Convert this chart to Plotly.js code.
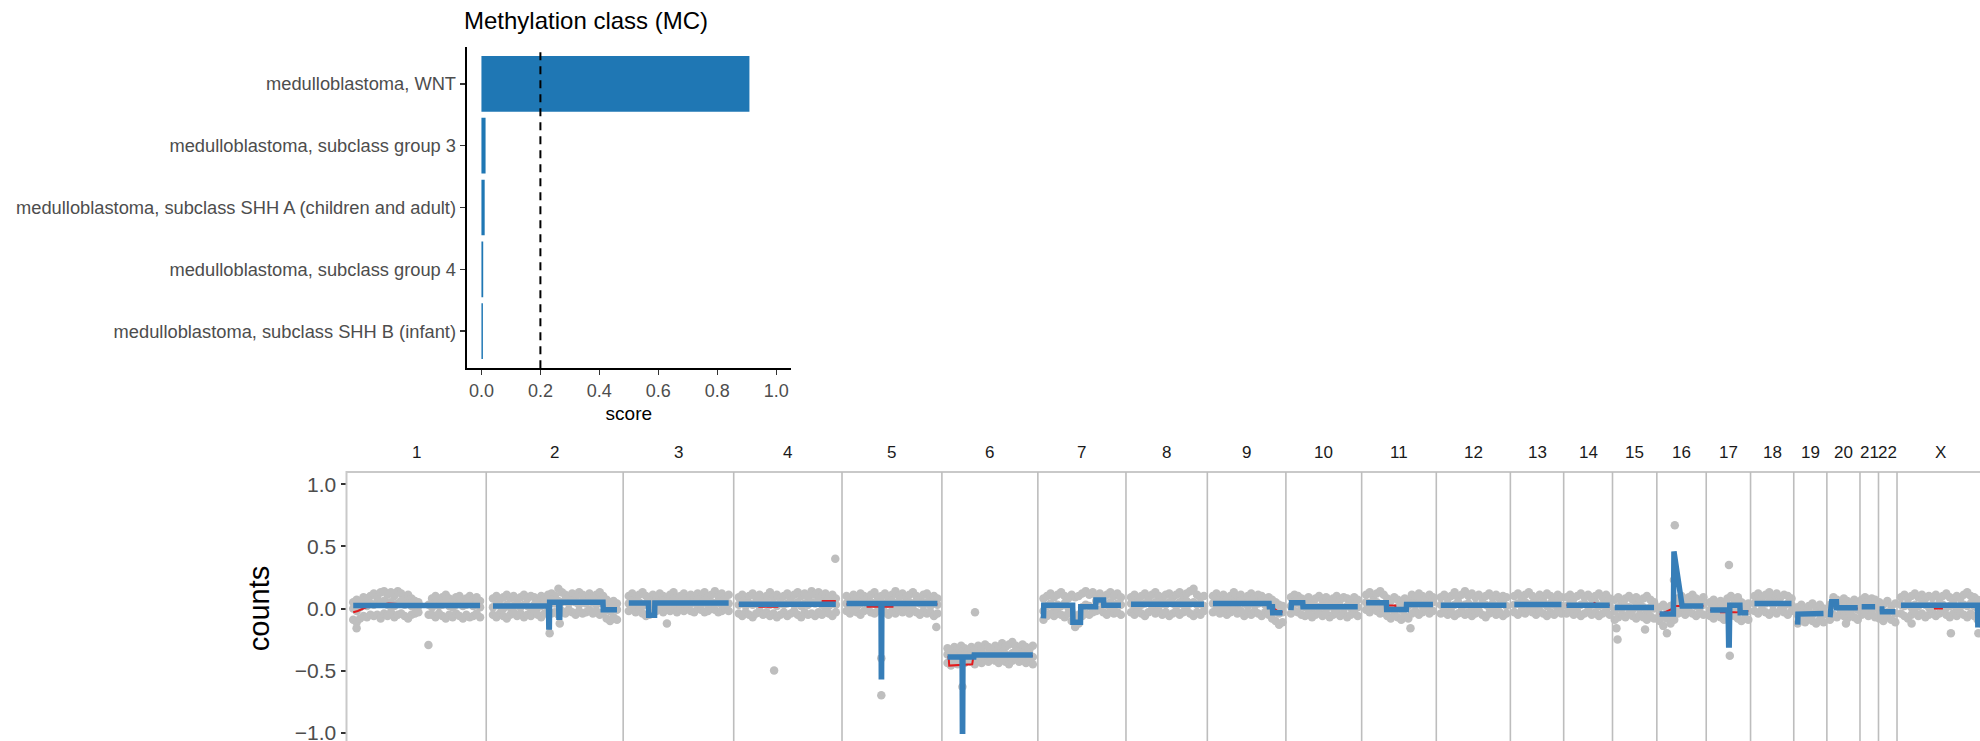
<!DOCTYPE html>
<html><head><meta charset="utf-8">
<script src="https://cdn.plot.ly/plotly-3.0.1.min.js"></script>
<style>html,body{margin:0;padding:0;overflow:hidden;background:#fff}#chart{width:1984px;height:750px}</style>
</head><body><div id="chart"></div><script>
// ---------- data: methylation class scores ----------
const classNames = ["medulloblastoma, WNT","medulloblastoma, subclass group 3","medulloblastoma, subclass SHH A (children and adult)","medulloblastoma, subclass group 4","medulloblastoma, subclass SHH B (infant)"];
const classScores = [0.909, 0.014, 0.011, 0.006, 0.005];
const scoreThreshold = 0.2;
const scoreTicks = [0, 0.2, 0.4, 0.6, 0.8, 1.0];

// ---------- data: copy number profile ----------
const chromNames = ["1","2","3","4","5","6","7","8","9","10","11","12","13","14","15","16","17","18","19","20","21","22","X"];
const chromLen = [249,244,197,193,178,171,157,145,140,135,133,132,95,87,79,88,79,77,59,59,33,33,155];
const countTicks = [-1, -0.5, 0, 0.5, 1];

// segmented profile (blue), positions in Mb within chromosome
const bluePos = [
 [12,238],
 [12,111,111.5,112.5,113,129,129.5,131,131.5,208,208.5,233],
 [10,45,45.5,56,56.5,188],
 [9,182],
 [8,69.5,70,70.5,71,170],
 [10,36,36.5,37,37.5,57,57.5,162],
 [10,10.5,62,62.5,76,76.5,103,103.5,117,117.5,148],
 [9,139],
 [10,110,110.5,116,116.5,134],
 [9,10,30,30.5,128],
 [8,44,44.5,79.5,80,127],
 [8,125],
 [7,91],
 [5,82],
 [4,74],
 [5,29.5,30.5,45,83],
 [7,39,40,41,42,60,60.5,75],
 [7,73],
 [7,7.5,53],
 [5.5,8.5,17,17.5,55],
 [3,27],
 [1.5,6,6.5,30],
 [7,143.5,144,150]
];
const blueVal = [
 [0.025,0.025],
 [0.02,0.02,-0.15,-0.15,0.05,0.05,-0.07,-0.07,0.05,0.05,-0.01,-0.01],
 [0.045,0.045,-0.055,-0.055,0.045,0.045],
 [0.035,0.035],
 [0.04,0.04,-0.55,-0.55,0.04,0.04],
 [-0.39,-0.39,-0.99,-0.99,-0.39,-0.39,-0.375,-0.375],
 [-0.08,0.027,0.027,-0.11,-0.11,0.014,0.014,0.068,0.068,0.027,0.027],
 [0.035,0.035],
 [0.04,0.04,0.015,0.015,-0.035,-0.035],
 [-0.013,0.046,0.046,0.014,0.014],
 [0.046,0.046,-0.008,-0.008,0.033,0.033],
 [0.027,0.027],
 [0.033,0.033],
 [0.027,0.027],
 [0.009,0.009],
 [-0.045,-0.045,0.46,0.02,0.02],
 [-0.013,-0.013,-0.295,-0.295,0.027,0.027,-0.035,-0.035],
 [0.04,0.04],
 [-0.13,-0.045,-0.04],
 [-0.07,0.054,0.054,0.006,0.006],
 [0.014,0.014],
 [-0.005,-0.005,-0.027,-0.027],
 [0.027,0.027,-0.13,-0.13]
];

// second segmentation (red), drawn under the blue one
const redPos = [
 [12,20,35,60,75,100,115,238],
 [], [],
 [9,45,45.5,78,78.5,158,158.5,182],
 [8,45,45.5,90,90.5,170],
 [10,12,13,54,55,56,162],
 [],[],
 [10,100,112,125,134],
 [],
 [8,44,44.5,60,60.5,79.5,80,127],
 [],[],
 [5,50,55,60,82],
 [],
 [5,29,30.5,45,83],
 [7,25,26,60,60.5,75],
 [],[],
 [5.5,8,10,17,17.5,35,55],
 [],[],
 [7,67,67.5,80,80.5,143.5]
];
const redVal = [
 [-0.03,-0.02,0.01,0.03,0.04,0.035,0.02,0.02],
 [], [],
 [0.035,0.035,0.015,0.015,0.035,0.035,0.06,0.06],
 [0.035,0.035,0.015,0.015,0.035,0.035],
 [-0.39,-0.39,-0.46,-0.45,-0.42,-0.38,-0.38],
 [],[],
 [0.04,0.04,0.02,-0.02,-0.03],
 [],
 [0.046,0.046,0.025,0.025,-0.008,-0.008,0.033,0.033],
 [],[],
 [0.027,0.027,0.045,0.027,0.027],
 [],
 [-0.05,0.0,0.02,0.02,0.02],
 [-0.013,-0.013,-0.03,-0.03,-0.02,-0.02],
 [],[],
 [-0.06,0.02,0.03,0.02,0.01,0.0,0.0],
 [],[],
 [0.027,0.027,0.0,0.0,0.027,0.027]
];

// binned counts (grey points): upper, middle and lower rows of each chromosome's band
const bandUpper = [
 [0.05,0.07,0.06,0.09,0.08,0.10,0.12,0.09,0.13,0.14,0.11,0.13,0.10,0.14,0.12,0.09,0.11,0.08,0.06,0.05,null,null,null,0.08,0.10,0.07,0.09,0.11,0.08,0.06,0.09,0.10,0.07,0.08,0.10,0.07,0.09,0.06],
 [0.08,0.10,0.07,0.09,0.11,0.08,0.10,0.07,0.09,0.11,0.08,0.10,0.09,0.07,0.10,0.08,0.11,0.12,0.10,0.16,0.13,0.11,0.10,0.12,0.09,0.13,0.11,0.10,0.12,0.09,0.11,0.13,0.10,0.07,0.05,0.06,0.04],
 [0.10,0.12,0.09,0.11,0.13,0.10,0.08,0.11,0.09,0.12,0.10,0.08,0.11,0.13,0.09,0.10,0.12,0.08,0.11,0.09,0.12,0.10,0.13,0.09,0.11,0.14,0.10,0.12,0.09,0.11],
 [0.09,0.11,0.08,0.10,0.12,0.09,0.11,0.08,0.10,0.13,0.09,0.11,0.08,0.10,0.12,0.09,0.11,0.13,0.10,0.12,0.09,0.14,0.11,0.13,0.10,0.12,0.09,0.11,0.08],
 [0.10,0.08,0.11,0.09,0.12,0.10,0.08,0.11,0.13,0.09,0.10,0.12,0.08,0.11,0.14,0.10,0.12,0.09,0.11,0.13,0.10,0.08,0.11,0.12,0.09,0.10,0.08],
 [-0.32,-0.34,-0.31,-0.33,-0.30,-0.32,-0.34,-0.31,-0.33,-0.30,-0.32,-0.29,-0.31,-0.33,-0.30,-0.32,-0.28,-0.31,-0.29,-0.27,-0.30,-0.32,-0.29,-0.31,-0.33,-0.30],
 [0.08,0.10,0.12,0.09,0.11,0.13,0.10,0.08,0.11,0.09,0.10,0.12,0.14,0.11,0.13,0.10,0.12,0.09,0.11,0.13,0.10,0.12,0.09],
 [0.09,0.11,0.08,0.10,0.12,0.09,0.11,0.13,0.10,0.08,0.11,0.12,0.09,0.11,0.13,0.10,0.12,0.14,0.16,0.11,0.09,0.10],
 [0.10,0.12,0.09,0.11,0.08,0.10,0.13,0.09,0.11,0.08,0.10,0.12,0.09,0.11,0.10,0.08,0.09,0.07,0.05,0.03,0.02],
 [0.09,0.11,0.10,0.08,0.07,0.09,0.06,0.08,0.10,0.07,0.09,0.06,0.08,0.10,0.07,0.09,0.08,0.06,0.09,0.07],
 [0.11,0.13,0.10,0.12,0.14,0.11,0.08,0.06,0.09,0.07,0.05,0.08,0.06,0.11,0.09,0.12,0.10,0.08,0.11,0.09],
 [0.09,0.11,0.08,0.10,0.13,0.09,0.11,0.14,0.10,0.12,0.09,0.11,0.08,0.10,0.12,0.09,0.11,0.08,0.10,0.09],
 [0.10,0.12,0.09,0.11,0.13,0.10,0.08,0.11,0.09,0.12,0.10,0.08,0.11,0.09],
 [0.09,0.11,0.08,0.10,0.12,0.09,0.11,0.08,0.10,0.12,0.09,0.11,0.08],
 [0.07,0.09,0.06,0.08,0.10,0.07,0.09,0.06,0.08,0.10,0.07,0.05],
 [0.01,0.03,0.00,0.02,0.04,0.08,0.10,0.07,0.09,0.11,0.08,0.06,0.09],
 [0.05,0.07,0.04,0.06,0.03,0.08,0.10,0.07,0.09,0.05,0.03,0.04],
 [0.10,0.12,0.09,0.11,0.13,0.10,0.12,0.09,0.11,0.10,0.08],
 [0.01,0.03,0.00,0.02,0.04,0.01,0.03,0.00],
 [0.03,0.09,0.07,0.05,0.08,0.06,0.04,0.07,0.05],
 [0.07,0.09,0.06,0.08,0.07],
 [0.05,0.03,0.06,0.02,0.04],
 [0.09,0.11,0.08,0.10,0.12,0.09,0.11,0.08,0.10,0.09,0.11,0.08,0.10,0.12,0.09,0.07,0.10,0.08,0.11,0.13,0.10,0.09,0.07,0.02]
];
const bandMiddle = [
 [0.00,-0.02,0.01,0.03,0.02,0.04,0.03,0.05,0.04,0.06,0.03,0.05,0.02,0.04,0.06,0.03,0.04,0.02,0.01,0.02,null,null,0.03,0.01,0.04,0.02,0.03,0.05,0.02,0.01,0.03,0.04,0.02,0.03,0.05,0.02,0.04,0.01],
 [0.01,0.03,0.02,0.00,0.03,0.01,0.02,0.04,0.01,0.03,0.02,0.00,0.03,0.01,0.02,0.04,0.05,0.07,0.04,0.06,0.05,0.07,0.04,0.06,0.05,0.03,0.06,0.04,0.07,0.05,0.03,0.06,0.04,0.00,-0.02,0.01,-0.01],
 [0.04,0.06,0.03,0.05,0.02,0.04,0.06,0.03,0.05,0.04,0.06,0.03,0.05,0.07,0.04,0.05,0.03,0.06,0.04,0.05,0.07,0.04,0.06,0.03,0.05,0.04,0.06,0.03,0.05,0.04],
 [0.03,0.05,0.02,0.04,0.03,0.05,0.02,0.04,0.06,0.03,0.04,0.02,0.05,0.03,0.04,0.06,0.03,0.05,0.02,0.04,0.03,0.05,0.04,0.06,0.03,0.05,0.02,0.04,0.03],
 [0.04,0.03,0.05,0.02,0.04,0.06,0.03,0.05,0.04,0.02,0.05,0.03,0.04,0.06,0.03,0.05,0.04,0.02,0.05,0.03,0.06,0.04,0.03,0.05,0.02,0.04,0.03],
 [-0.37,-0.39,-0.36,-0.38,-0.35,-0.37,-0.39,-0.36,-0.38,-0.37,-0.35,-0.38,-0.36,-0.37,-0.39,-0.36,-0.35,-0.37,-0.38,-0.36,-0.34,-0.37,-0.36,-0.38,-0.37,-0.39],
 [-0.02,0.02,0.04,0.01,0.03,0.02,0.04,0.01,-0.03,-0.08,-0.05,0.01,0.03,0.02,0.00,0.06,0.07,0.04,0.03,0.05,0.02,0.04,0.03],
 [0.04,0.02,0.05,0.03,0.04,0.06,0.03,0.05,0.02,0.04,0.03,0.05,0.04,0.02,0.05,0.03,0.06,0.04,0.05,0.03,0.04,0.02],
 [0.04,0.06,0.03,0.05,0.02,0.04,0.05,0.03,0.06,0.04,0.02,0.05,0.03,0.04,0.06,0.03,0.02,0.00,-0.02,-0.04,-0.03],
 [0.02,0.05,0.04,0.02,0.01,0.03,0.00,0.02,0.01,0.03,0.00,0.02,0.01,0.03,0.02,0.00,0.02,0.01,0.03,0.01],
 [0.05,0.04,0.06,0.05,0.03,0.01,-0.01,0.00,-0.02,0.01,-0.01,0.00,0.02,0.04,0.03,0.05,0.02,0.04,0.03,0.05],
 [0.03,0.02,0.04,0.01,0.03,0.05,0.02,0.03,0.04,0.01,0.03,0.02,0.04,0.03,0.01,0.04,0.02,0.03,0.05,0.02],
 [0.03,0.04,0.02,0.05,0.03,0.04,0.02,0.03,0.05,0.02,0.04,0.03,0.05,0.02],
 [0.02,0.04,0.03,0.01,0.03,0.04,0.02,0.03,0.05,0.02,0.03,0.04,0.02],
 [-0.02,0.01,0.00,0.02,0.01,-0.01,0.02,0.00,0.01,-0.02,0.01,0.00],
 [-0.05,-0.06,-0.08,-0.04,-0.02,0.01,0.03,0.01,0.02,0.04,0.02,0.01,0.03],
 [-0.01,0.00,-0.02,-0.01,-0.03,0.00,0.02,0.01,0.02,-0.02,-0.03,-0.02],
 [0.04,0.05,0.03,0.04,0.06,0.03,0.05,0.04,0.02,0.04,0.03],
 [-0.05,-0.03,-0.04,-0.02,-0.05,-0.03,-0.04,-0.05],
 [-0.04,0.03,0.02,0.00,0.01,-0.01,0.01,0.00,-0.01],
 [0.01,0.02,0.00,0.02,0.01],
 [-0.02,-0.04,-0.03,-0.02,-0.04],
 [0.03,0.02,0.04,0.01,0.03,0.02,0.04,0.03,0.01,0.03,0.02,0.04,0.03,0.01,0.02,0.04,0.00,0.02,0.03,0.02,0.04,0.02,0.00,-0.06]
];
const bandLower = [
 [-0.09,-0.11,-0.08,-0.06,-0.07,-0.05,-0.06,-0.05,-0.08,-0.04,-0.06,-0.03,-0.07,-0.05,-0.04,-0.06,-0.08,-0.05,-0.04,-0.03,null,null,-0.05,-0.05,-0.07,-0.04,-0.06,-0.08,-0.05,-0.07,-0.04,-0.06,-0.08,-0.05,-0.07,-0.06,-0.04,-0.07],
 [-0.05,-0.07,-0.04,-0.06,-0.08,-0.05,-0.03,-0.06,-0.04,-0.07,-0.05,-0.06,-0.03,-0.05,-0.07,-0.04,-0.02,-0.04,-0.03,-0.05,-0.02,-0.04,-0.01,-0.03,-0.05,-0.02,-0.04,-0.03,-0.01,-0.04,-0.02,-0.05,-0.03,-0.08,-0.10,-0.07,-0.09],
 [-0.02,0.00,-0.03,-0.01,-0.04,-0.06,-0.05,-0.03,-0.02,0.00,-0.03,-0.01,-0.02,0.00,-0.03,-0.01,-0.02,0.01,-0.02,-0.03,0.00,-0.01,-0.03,-0.02,0.00,-0.01,-0.03,-0.02,0.00,-0.02],
 [-0.04,-0.06,-0.03,-0.05,-0.07,-0.04,-0.02,-0.05,-0.03,-0.06,-0.04,-0.07,-0.05,-0.03,-0.06,-0.04,-0.02,-0.05,-0.07,-0.03,-0.05,-0.04,-0.06,-0.03,-0.05,-0.02,-0.04,-0.06,-0.03],
 [-0.02,-0.04,-0.01,-0.03,-0.05,-0.02,0.00,-0.03,-0.04,-0.02,-0.01,-0.03,-0.05,-0.02,-0.04,-0.01,-0.03,-0.02,-0.04,-0.01,-0.03,-0.05,-0.02,-0.04,-0.03,-0.06,-0.04],
 [-0.44,-0.46,-0.43,-0.45,-0.42,-0.44,-0.41,-0.43,-0.45,-0.42,-0.44,-0.41,-0.43,-0.40,-0.42,-0.44,-0.41,-0.43,-0.45,-0.42,-0.40,-0.43,-0.41,-0.44,-0.42,-0.45],
 [-0.09,-0.06,-0.04,-0.06,-0.03,-0.05,-0.07,-0.04,-0.10,-0.15,-0.12,-0.06,-0.04,-0.05,-0.03,-0.02,-0.01,-0.03,-0.05,-0.02,-0.04,-0.03,-0.05],
 [-0.03,-0.05,-0.02,-0.04,-0.06,-0.03,-0.01,-0.04,-0.02,-0.05,-0.03,-0.06,-0.04,-0.02,-0.05,-0.03,-0.01,-0.04,-0.06,-0.03,-0.05,-0.02],
 [-0.03,-0.01,-0.04,-0.02,-0.05,-0.03,-0.01,-0.04,-0.02,-0.06,-0.03,-0.05,-0.02,-0.04,-0.06,-0.03,-0.05,-0.08,-0.10,-0.13,-0.11],
 [-0.04,-0.02,-0.03,-0.05,-0.06,-0.04,-0.07,-0.05,-0.03,-0.06,-0.04,-0.07,-0.05,-0.03,-0.06,-0.04,-0.07,-0.05,-0.03,-0.06],
 [-0.01,-0.03,0.00,-0.02,-0.04,-0.03,-0.06,-0.08,-0.05,-0.07,-0.09,-0.06,-0.08,-0.04,-0.02,-0.05,-0.03,-0.01,-0.04,-0.02],
 [-0.04,-0.02,-0.05,-0.03,-0.06,-0.04,-0.02,-0.05,-0.03,-0.06,-0.04,-0.02,-0.05,-0.07,-0.04,-0.02,-0.05,-0.03,-0.06,-0.04],
 [-0.03,-0.05,-0.02,-0.04,-0.01,-0.03,-0.05,-0.02,-0.04,-0.06,-0.03,-0.05,-0.02,-0.04],
 [-0.04,-0.02,-0.05,-0.03,-0.06,-0.04,-0.02,-0.05,-0.03,-0.06,-0.04,-0.02,-0.05],
 [-0.09,-0.07,-0.05,-0.07,-0.04,-0.06,-0.08,-0.05,-0.07,-0.09,-0.06,-0.08],
 [-0.10,-0.14,-0.20,-0.12,-0.09,-0.04,-0.03,-0.05,-0.02,-0.04,-0.06,-0.03,-0.05],
 [-0.06,-0.08,-0.05,-0.07,-0.09,-0.06,-0.04,-0.06,-0.08,-0.10,-0.08,-0.09],
 [-0.02,-0.04,-0.01,-0.03,-0.05,-0.02,-0.04,-0.01,-0.03,-0.05,-0.02],
 [-0.12,-0.09,-0.11,-0.08,-0.10,-0.12,-0.09,-0.11],
 [-0.09,-0.05,-0.07,-0.04,-0.06,-0.08,-0.05,-0.07,-0.09],
 [-0.05,-0.03,-0.06,-0.04,-0.07],
 [-0.08,-0.10,-0.07,-0.09,-0.11],
 [-0.04,-0.06,-0.08,-0.05,-0.03,-0.06,-0.04,-0.07,-0.05,-0.03,-0.06,-0.04,-0.02,-0.05,-0.07,-0.04,-0.06,-0.03,-0.05,-0.07,-0.04,-0.06,-0.09,-0.12]
];

// single outlying bins
const outChrom = ["1","1","2","2","3","4","4","5","5","5","6","6","11","15","15","15","16","16","17","17","20","X","X","X"];
const outPos   = [18,146,113,131,78,72,181,70,70,168,36.5,59,87,7,9,58,32,30.5,40.5,42,34,26,96,145];
const outVal   = [-0.16,-0.295,-0.20,-0.12,-0.12,-0.50,0.40,-0.40,-0.70,-0.15,-0.63,-0.03,-0.16,-0.16,-0.25,-0.17,0.67,0.23,0.35,-0.38,-0.12,-0.12,-0.20,-0.20];

// ---------- build ----------
const W = 1984, H = 750;
const FONT = "Liberation Sans, Arial, Helvetica, sans-serif";
const chromStart = [];
let acc = 0;
chromLen.forEach(l => { chromStart.push(acc); acc += l; });
const genomeLen = acc;

const gx = [], gy = [];
chromNames.forEach((c, k) => {
  const p = bluePos[k], a = p[0], b = p[p.length - 1];
  [bandUpper[k], bandMiddle[k], bandLower[k]].forEach(row => {
    const n = row.length;
    row.forEach((v, i) => {
      if (v === null) return;
      gx.push(chromStart[k] + a + (n > 1 ? i * (b - a) / (n - 1) : 0));
      gy.push(v);
    });
  });
});
outChrom.forEach((c, j) => {
  const k = chromNames.indexOf(c);
  gx.push(chromStart[k] + outPos[j]);
  gy.push(outVal[j]);
});

function joinSeg(P, V) {
  const xs = [], ys = [];
  P.forEach((pos, k) => {
    if (!pos.length) return;
    pos.forEach((p, i) => { xs.push(chromStart[k] + p); ys.push(V[k][i]); });
    xs.push(null); ys.push(null);
  });
  return {xs, ys};
}
const blue = joinSeg(bluePos, blueVal);
const red = joinSeg(redPos, redVal);

const traces = [
  {type: "bar", orientation: "h", x: classScores, y: classNames, xaxis: "x", yaxis: "y",
   width: 0.9, marker: {color: "#1f77b4"}, hoverinfo: "x+y"},
  {type: "scatter", mode: "markers", x: gx, y: gy, xaxis: "x2", yaxis: "y2",
   marker: {size: 8.5, color: "#bebebe"}, hoverinfo: "skip"},
  {type: "scatter", mode: "lines", x: red.xs, y: red.ys, xaxis: "x2", yaxis: "y2",
   line: {color: "#e41a1c", width: 2}, connectgaps: false, hoverinfo: "skip"},
  {type: "scatter", mode: "lines", x: blue.xs, y: blue.ys, xaxis: "x2", yaxis: "y2",
   line: {color: "#377eb8", width: 5.5}, connectgaps: false, hoverinfo: "skip"}
];

const shapes = [
  {type: "line", xref: "x", yref: "y domain", x0: scoreThreshold, x1: scoreThreshold, y0: 0, y1: 1,
   line: {color: "#000", width: 2, dash: "8px,6px"}},
  {type: "rect", xref: "x2 domain", yref: "y2 domain", x0: 0, x1: 1, y0: 0, y1: 1,
   line: {color: "#c9c9c9", width: 2}, fillcolor: "rgba(0,0,0,0)"}
];
chromStart.slice(1).forEach(s => shapes.push({type: "line", xref: "x2", yref: "y2 domain",
  x0: s, x1: s, y0: 0, y1: 1, line: {color: "#bdbdbd", width: 1.6}}));

const annotations = chromNames.map((c, k) => ({
  text: c, xref: "x2", x: chromStart[k] + chromLen[k] / 2, yref: "paper", y: (H - 452) / H,
  xanchor: "center", yanchor: "middle", showarrow: false, font: {size: 17, color: "#1a1a1a", family: FONT}
}));

const layout = {
  width: W, height: H, margin: {l: 0, r: 0, t: 0, b: 0},
  paper_bgcolor: "#fff", plot_bgcolor: "#fff", showlegend: false,
  font: {family: FONT},
  title: {text: "Methylation class (MC)", font: {size: 24, color: "#000", family: FONT},
    xref: "paper", x: 464 / W, xanchor: "left", yref: "container", y: 1 - 21 / H, yanchor: "middle"},
  xaxis: {domain: [466.7 / W, 791 / W], range: [-0.05, 1.05], anchor: "y",
    tickvals: scoreTicks, tickformat: ".1f", ticks: "outside", ticklen: 5, tickwidth: 1.5, tickcolor: "#333",
    tickfont: {size: 18, color: "#4d4d4d"}, showline: true, linecolor: "#000", linewidth: 2,
    showgrid: false, zeroline: false,
    title: {text: "score", font: {size: 19, color: "#000"}, standoff: 7}},
  yaxis: {domain: [(H - 368.3) / H, (H - 46.7) / H], anchor: "x", type: "category",
    categoryorder: "array", categoryarray: classNames, range: [4.6, -0.6],
    ticks: "outside", ticklen: 5, tickwidth: 1.5, tickcolor: "#333",
    tickfont: {size: 18.3, color: "#4d4d4d"}, showline: true, linecolor: "#000", linewidth: 2,
    showgrid: false, zeroline: false},
  xaxis2: {domain: [346.5 / W, 1], range: [0, genomeLen], anchor: "y2",
    showticklabels: false, ticks: "", showgrid: false, zeroline: false, showline: false},
  yaxis2: {domain: [(H - 745) / H, (H - 472) / H], range: [-1.1, 1.1], anchor: "x2",
    tickvals: countTicks, tickformat: ".1f", ticks: "outside", ticklen: 5, tickwidth: 2, tickcolor: "#333",
    tickfont: {size: 21, color: "#4d4d4d"}, showgrid: false, zeroline: false, showline: false,
    title: {text: "counts", font: {size: 29, color: "#000"}, standoff: 16}},
  shapes: shapes,
  annotations: annotations
};

Plotly.newPlot("chart", traces, layout, {displayModeBar: false, staticPlot: true});
</script></body></html>
